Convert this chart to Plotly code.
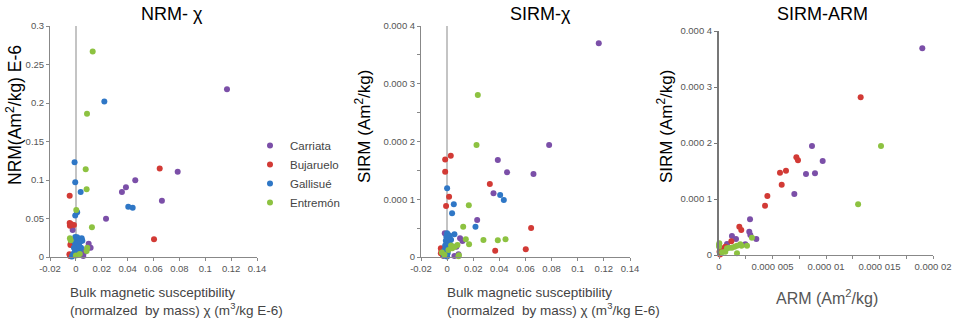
import plotly.graph_objects as go

# ---------------- data ----------------
groups = ["Carriata", "Bujaruelo", "Gallisué", "Entremón"]
colors = ["#7b4fa8", "#d23a35", "#2f77c6", "#8dc241"]

# Panel 1: NRM vs chi
p1_chi = {
    "Carriata": [0.1168, 0.0787, 0.0459, 0.0387, 0.0356, 0.0665, 0.0233, -0.0025, 0.0099, 0.0114, 0.0088, 0.0070, 0.0057, 0.0024, -0.0040],
    "Bujaruelo": [0.0648, 0.0604, -0.0048, -0.0048, -0.0046, -0.0015, -0.0038, -0.0040, -0.0042, -0.0050, -0.0045, -0.0030],
    "Gallisué": [0.0220, -0.0010, -0.0005, 0.0037, 0.0010, -0.0005, 0.0405, 0.0439,
                 0.0045, 0.0050, 0.0010, -0.0005, 0.0000, -0.0010, 0.0000, 0.0010, 0.0020, 0.0030, 0.0040,
                 -0.0005, -0.0010, -0.0020, -0.0025, -0.0030, 0.0000, 0.0010, -0.0015, 0.0015, 0.0025, 0.0035],
    "Entremón": [0.0130, 0.0086, 0.0076, 0.0083, 0.0003, 0.0124, -0.0046, -0.0040, 0.0088, 0.0083, 0.0000, 0.0030],
}
p1_nrm = {
    "Carriata": [0.2177, 0.1108, 0.0996, 0.0905, 0.0845, 0.0731, 0.0498, 0.0350, 0.0173, 0.0120, 0.0110, 0.0069, 0.0013, 0.0090, 0.0010],
    "Bujaruelo": [0.1150, 0.0230, 0.0797, 0.0440, 0.0405, 0.0416, 0.0430, 0.0170, 0.0156, 0.0035, 0.0013, 0.0020],
    "Gallisué": [0.2020, 0.1230, 0.0970, 0.0845, 0.0580, 0.0540, 0.0653, 0.0640,
                 0.0243, 0.0210, 0.0255, 0.0260, 0.0220, 0.0190, 0.0160, 0.0130, 0.0110, 0.0090, 0.0120,
                 0.0090, 0.0060, 0.0040, 0.0020, 0.0005, 0.0030, 0.0050, 0.0120, 0.0180, 0.0150, 0.0200],
    "Entremón": [0.2670, 0.1860, 0.1140, 0.0880, 0.0610, 0.0386, 0.0243, 0.0217, 0.0120, 0.0078, 0.0020, 0.0040],
}

# Panel 2: SIRM vs chi
p2_chi = {
    "Carriata": [0.1161, 0.0781, 0.0661, 0.0459, 0.0388, 0.0355, 0.0230, -0.0018, 0.0099, 0.0117, 0.0071, 0.0087, 0.0056],
    "Bujaruelo": [0.0028, -0.0015, -0.0015, 0.0015, -0.0008, 0.0327, 0.0643, 0.0602, 0.0368, -0.0048, -0.0044, -0.0048, -0.0038, -0.0030],
    "Gallisué": [0.0000, 0.0051, 0.0038, 0.0406, 0.0434, 0.0217, 0.0000, 0.0056, 0.0010, -0.0006, 0.0020,
                 0.0015, 0.0030, -0.0010, 0.0005, 0.0020, -0.0015, 0.0000, 0.0010, 0.0030, -0.0020,
                 -0.0005, 0.0005, -0.0015, -0.0025, 0.0000, 0.0040],
    "Entremón": [0.0235, 0.0225, 0.0166, 0.0123, 0.0143, 0.0278, 0.0388, 0.0447, 0.0168, 0.0079, 0.0059, 0.0039,
                 0.0090, 0.0087, -0.0040, -0.0020, 0.0030, 0.0010],
}
p2_sirm = {
    "Carriata": [0.000370, 0.000194, 0.0001437, 0.0001466, 0.000168, 0.0001103, 0.000064, 0.000041, 0.0000324, 0.0000277, 0.0000178, 0.0000047, 0.0000017],
    "Bujaruelo": [0.0001755, 0.000169, 0.0001477, 0.0001045, 0.0000883, 0.0001264, 0.0000502, 0.0000133, 0.000011, 0.000015, 0.0000121, 0.0000064, 0.0000050, 0.0000020],
    "Gallisué": [0.000119, 0.0000912, 0.0000757, 0.0001074, 0.0000987, 0.0000525, 0.000041, 0.0000393, 0.000038, 0.000035, 0.000037,
                 0.000032, 0.000030, 0.000028, 0.000025, 0.000022, 0.000020, 0.000018, 0.000015, 0.000016, 0.000012,
                 0.000010, 0.000007, 0.000004, 0.000002, 0.000001, 0.000018],
    "Entremón": [0.0002805, 0.000194, 0.0000895, 0.0000525, 0.0000306, 0.0000294, 0.000029, 0.0000306, 0.000022, 0.0000208, 0.0000178, 0.000015,
                 0.000003, 0.0000015, 0.000008, 0.000004, 0.000020, 0.000012],
}

# Panel 3: SIRM vs ARM
p3_arm = {
    "Carriata": [1.90e-5, 8.69e-6, 9.69e-6, 8.13e-6, 8.97e-6, 7.04e-6, 2.90e-6, 2.83e-6, 2.93e-6, 3.49e-6, 2.46e-6, 1.21e-6, 1.59e-6, 0.75e-6, 0.30e-6],
    "Bujaruelo": [1.324e-5, 7.23e-6, 7.38e-6, 6.26e-6, 5.70e-6, 5.86e-6, 4.52e-6, 4.30e-6, 1.90e-6, 2.08e-6, 1.15e-6, 0.59e-6, 0.44e-6, 0.28e-6, 0.05e-6, -0.05e-6, 0.10e-6],
    "Entremón": [1.514e-5, 1.30e-5, 3.08e-6, 2.62e-6, 2.10e-6, 1.99e-6, 1.68e-6, 1.46e-6, 1.21e-6, 0.96e-6, 0.75e-6, 0.59e-6, 0.28e-6, 1.68e-6, 0.03e-6, 0.00e-6, 0.00e-6],
}
p3_sirm = {
    "Carriata": [0.000369, 0.0001946, 0.000168, 0.0001446, 0.000146, 0.000109, 0.0000637, 0.0000416, 0.0000357, 0.0000286, 0.0000191, 0.0000339, 0.0000286, 0.0000196, 0.000008],
    "Bujaruelo": [0.0002815, 0.0001745, 0.000169, 0.0001506, 0.000147, 0.0001256, 0.0001054, 0.000088, 0.0000506, 0.0000446, 0.0000245, 0.0000148, 0.000012, 0.0000089, 0.0000059, 0.000002, 0.000001],
    "Entremón": [0.0001946, 0.0000905, 0.0000309, 0.0000166, 0.0000166, 0.0000191, 0.0000166, 0.0000148, 0.000013, 0.000013, 0.000012, 0.0000059, 0.0000048, 0.000003, 0.0000209, 0.000018, 0.000015],
}

chi_ticks = [-0.02, 0, 0.02, 0.04, 0.06, 0.08, 0.1, 0.12, 0.14]
chi_ticklabels = ["-0.02", "0", "0.02", "0.04", "0.06", "0.08", "0.1", "0.12", "0.14"]
nrm_ticks = [0, 0.05, 0.1, 0.15, 0.2, 0.25, 0.3]
nrm_ticklabels = ["0", "0.05", "0.1", "0.15", "0.2", "0.25", "0.3"]
sirm_ticks = [0, 0.0001, 0.0002, 0.0003, 0.0004]
sirm_ticklabels = ["0", "0.000 1", "0.000 2", "0.000 3", "0.000 4"]
arm_ticks = [0, 0.000005, 0.00001, 0.000015, 0.00002]
arm_ticklabels = ["0", "0.000 005", "0.000 01", "0.000 015", "0.000 02"]

# ---------------- figure ----------------
W, H = 963, 319
FONT = "Arial, Liberation Sans, sans-serif"
fig = go.Figure()

for g, c in zip(groups, colors):
    fig.add_trace(go.Scatter(x=p1_chi[g], y=p1_nrm[g], mode="markers", name=g,
                             marker=dict(color=c, size=6), cliponaxis=False,
                             xaxis="x", yaxis="y", showlegend=True))
for g, c in zip(groups, colors):
    fig.add_trace(go.Scatter(x=p2_chi[g], y=p2_sirm[g], mode="markers", name=g,
                             marker=dict(color=c, size=6), cliponaxis=False,
                             xaxis="x2", yaxis="y2", showlegend=False))
for g, c in zip(groups, colors):
    if g in p3_arm:
        fig.add_trace(go.Scatter(x=p3_arm[g], y=p3_sirm[g], mode="markers", name=g,
                                 marker=dict(color=c, size=6), cliponaxis=False,
                                 xaxis="x3", yaxis="y3", showlegend=False))

def px(v):
    return v / W

def py(v):
    return 1 - v / H

tickfont = dict(family=FONT, size=9.5, color="#555555")
common = dict(showgrid=False, ticks="outside", ticklen=3, tickcolor="#888888",
              showline=True, linecolor="#888888", linewidth=1, tickfont=tickfont,
              automargin=False)

fig.update_layout(
    template="none",
    width=W, height=H,
    margin=dict(l=0, r=0, t=0, b=0, pad=0),
    paper_bgcolor="white", plot_bgcolor="white",
    font=dict(family=FONT),
    xaxis=dict(domain=[px(50), px(257)], range=[-0.02, 0.14], anchor="y",
               tickvals=chi_ticks, ticktext=chi_ticklabels,
               zeroline=True, zerolinecolor="#c4c4c4", zerolinewidth=1.5, **common),
    yaxis=dict(domain=[py(257), py(26)], range=[0, 0.3], anchor="x",
               tickvals=nrm_ticks, ticktext=nrm_ticklabels, zeroline=False, **common),
    xaxis2=dict(domain=[px(421), px(630)], range=[-0.02, 0.14], anchor="y2",
                tickvals=chi_ticks, ticktext=chi_ticklabels,
                zeroline=True, zerolinecolor="#c4c4c4", zerolinewidth=1.5, **common),
    yaxis2=dict(domain=[py(257), py(26)], range=[0, 0.0004], anchor="x2",
                tickvals=sirm_ticks, ticktext=sirm_ticklabels, zeroline=False,
                minor=dict(dtick=0.00005, ticks="outside", ticklen=3, tickcolor="#888888", showgrid=False),
                **common),
    xaxis3=dict(domain=[px(719), px(933)], range=[0, 0.00002], anchor="y3",
                tickvals=arm_ticks, ticktext=arm_ticklabels, zeroline=False,
                minor=dict(dtick=0.0000025, tick0=0, ticks="outside", ticklen=3, tickcolor="#888888", showgrid=False),
                **common),
    yaxis3=dict(domain=[py(255), py(31)], range=[0, 0.0004], anchor="x3",
                tickvals=sirm_ticks, ticktext=sirm_ticklabels, zeroline=False,
                showgrid=False, ticks="outside", ticklen=3, tickcolor="#777777",
                showline=True, linecolor="#777777", linewidth=2, tickfont=tickfont,
                automargin=False),
    legend=dict(x=px(250), y=py(131), xanchor="left", yanchor="top",
                font=dict(family=FONT, size=11.5, color="#444444"),
                bgcolor="rgba(0,0,0,0)", borderwidth=0, itemwidth=30, tracegroupgap=0),
)

def ann(text, x, y, size, color="#000000", xanchor="center", angle=0):
    fig.add_annotation(text=text, x=px(x), y=py(y), xref="paper", yref="paper",
                       xanchor=xanchor, yanchor="middle", showarrow=False, textangle=angle,
                       font=dict(family=FONT, size=size, color=color))

# titles
ann("NRM- χ", 172, 14, 18)
ann("SIRM-χ", 540, 14, 18)
ann("SIRM-ARM", 822, 14, 18)

# y-axis titles
ann("NRM(Am<sup>2</sup>/kg) E-6", 14, 115, 17.5, angle=-90)
ann("SIRM (Am<sup>2</sup>/kg)", 363, 127, 17, angle=-90)
ann("SIRM (Am<sup>2</sup>/kg)", 665, 127, 17, angle=-90)

# x-axis titles
ann("Bulk magnetic susceptibility", 68, 292, 13.5, color="#444444", xanchor="left")
ann("(normalzed  by mass) χ (m<sup>3</sup>/kg E-6)", 68, 309, 13.5, color="#444444", xanchor="left")
ann("Bulk magnetic susceptibility", 445, 292, 13.5, color="#444444", xanchor="left")
ann("(normalzed  by mass) χ (m<sup>3</sup>/kg E-6)", 445, 309, 13.5, color="#444444", xanchor="left")
ann("ARM (Am<sup>2</sup>/kg)", 827, 297, 16, color="#555555")

# remove the browser's default page margin so the figure starts at the window's corner
fig.write_html("out.html", config={"displayModeBar": False},
               post_script="document.body.style.margin='0';document.body.style.overflow='hidden';")
